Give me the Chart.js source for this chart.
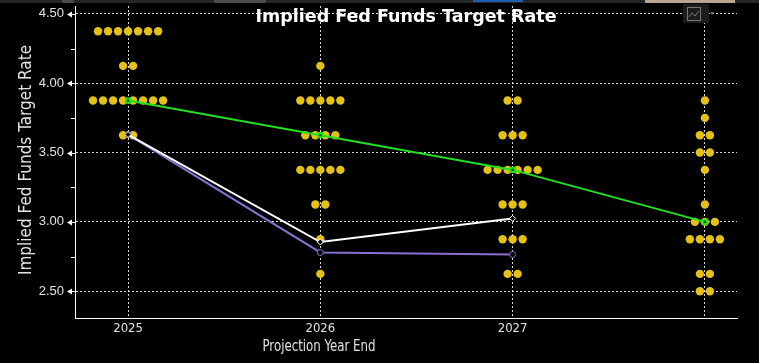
<!DOCTYPE html>
<html>
<head>
<meta charset="utf-8">
<script src="https://cdn.jsdelivr.net/npm/chart.js@4"></script>
<style>
  html, body { margin: 0; padding: 0; background: #000; }
  #wrap { width: 759px; height: 363px; }
</style>
</head>
<body>
<div id="wrap"><canvas id="fed-dots" width="759" height="363"></canvas></div>
<script>
// categories on the x axis (last one is the longer run, unlabeled in the picture)
const years = ['2025', '2026', '2027', 'Longer Run'];
const xTickLabels = ['2025', '2026', '2027', ''];
const yTicks = [2.5, 2.75, 3.0, 3.25, 3.5, 3.75, 4.0, 4.25, 4.5];

// FOMC dot plot: rate levels and how many dots sit on each
const dotRates = [
    [4.375, 4.125, 3.875, 3.625],
    [4.125, 3.875, 3.625, 3.375, 3.125, 2.875, 2.625],
    [3.875, 3.625, 3.375, 3.125, 2.875, 2.625],
    [3.875, 3.75, 3.625, 3.5, 3.375, 3.125, 3.0, 2.875, 2.625, 2.5]
];
const dotCounts = [
    [7, 2, 8, 2],
    [1, 5, 4, 5, 2, 1, 1],
    [2, 3, 6, 3, 3, 2],
    [1, 1, 2, 2, 1, 1, 3, 4, 2, 2]
];

// lines
const medianDots = [3.875, 3.625, 3.375, 3.0];
const impliedWhite = [3.63, 2.855, 3.025];
const impliedPurple = [3.63, 2.78, 2.765];

const dotStep = 10 / 192; // horizontal gap between dots, in category units

const dotPoints = [];
dotRates.forEach((rates, i) => {
    rates.forEach((r, j) => {
        const n = dotCounts[i][j];
        for (let k = 0; k < n; k++) {
            dotPoints.push({ x: i + (k - (n - 1) / 2) * dotStep, y: r });
        }
    });
});

const toXY = arr => arr.map((v, i) => ({ x: i, y: v }));

const isMajor = v => Math.abs(v * 2 - Math.round(v * 2)) < 1e-6;

const LABEL = '#e2e2e2';

const extras = {
    id: 'extras',
    beforeDraw(chart) {
        const { ctx } = chart;
        ctx.save();
        ctx.fillStyle = '#000';
        ctx.fillRect(0, 0, chart.width, chart.height);
        // top strip
        ctx.fillStyle = '#262626';
        ctx.fillRect(0, 0, chart.width, 3);
        ctx.fillStyle = '#4a4a4a';
        ctx.fillRect(62, 0, 12, 3);
        ctx.fillRect(214, 0, 52, 3);
        ctx.fillStyle = '#1f5fb0';
        ctx.fillRect(473, 0, 50, 2);
        ctx.fillStyle = '#b8a890';
        ctx.fillRect(645, 0, 90, 3);
        ctx.restore();
    },
    afterDraw(chart) {
        const { ctx, chartArea: { left, right, top, bottom } } = chart;
        const yS = chart.scales.y;
        ctx.save();
        // tick marks on the y axis: arrows at major, short dashes at minor
        ctx.fillStyle = '#ffffff';
        ctx.strokeStyle = '#ffffff';
        ctx.lineWidth = 1;
        yTicks.forEach(v => {
            const py = Math.round(yS.getPixelForValue(v)) + 0.5;
            if (isMajor(v)) {
                ctx.beginPath();
                ctx.moveTo(left - 8, py);
                ctx.lineTo(left - 3, py - 3);
                ctx.lineTo(left - 3, py + 3);
                ctx.closePath();
                ctx.fill();
                ctx.beginPath();
                ctx.moveTo(left - 3, py);
                ctx.lineTo(left, py);
                ctx.stroke();
            } else {
                ctx.beginPath();
                ctx.moveTo(left - 4, py);
                ctx.lineTo(left, py);
                ctx.stroke();
            }
        });

        // chart title, sits inside the plot area
        ctx.fillStyle = '#ffffff';
        ctx.font = 'bold 17.5px "DejaVu Sans"';
        ctx.textAlign = 'center';
        ctx.textBaseline = 'middle';
        ctx.fillText('Implied Fed Funds Target Rate', 406, 17);

        // axis titles (the x title is narrow in the original)
        ctx.fillStyle = LABEL;
        ctx.font = '16px "DejaVu Sans Condensed"';
        ctx.translate(319, 347);
        ctx.scale(0.82, 1);
        ctx.fillText('Projection Year End', 0, 0);
        ctx.setTransform(1, 0, 0, 1, 0, 0);
        ctx.font = '17px "DejaVu Sans Condensed"';
        ctx.translate(27, 160);
        ctx.rotate(-Math.PI / 2);
        ctx.fillText('Implied Fed Funds Target Rate', 0, 0);
        ctx.setTransform(1, 0, 0, 1, 0, 0);

        // small chart-type button, top right
        ctx.fillStyle = '#1c1c1c';
        ctx.fillRect(683, 4, 26, 19);
        ctx.strokeStyle = '#777';
        ctx.strokeRect(687.5, 7.5, 13, 13);
        ctx.beginPath();
        ctx.moveTo(689, 17);
        ctx.lineTo(692, 13);
        ctx.lineTo(695, 16);
        ctx.lineTo(699, 11);
        ctx.stroke();
        ctx.fillStyle = '#666';
        ctx.beginPath();
        ctx.moveTo(710, 12);
        ctx.lineTo(714, 12);
        ctx.lineTo(712, 15);
        ctx.closePath();
        ctx.fill();
        ctx.restore();
    }
};

Chart.defaults.font.family = '"Liberation Sans", sans-serif';
Chart.defaults.color = LABEL;

new Chart(document.getElementById('fed-dots'), {
    type: 'scatter',
    data: {
        datasets: [
            {
                label: 'Median',
                data: toXY(medianDots),
                showLine: true,
                borderColor: '#20e020',
                backgroundColor: '#20e020',
                borderWidth: 2,
                pointStyle: 'rect',
                pointRadius: 3,
                pointBorderColor: '#20e020',
                pointBackgroundColor: '#0a5a0a',
                order: 1
            },
            {
                label: 'Implied (white)',
                data: toXY(impliedWhite),
                showLine: true,
                borderColor: '#ffffff',
                borderWidth: 2,
                pointStyle: 'rectRot',
                pointRadius: 3,
                pointBorderColor: '#ffffff',
                pointBackgroundColor: '#000000',
                pointBorderWidth: 1,
                order: 2
            },
            {
                label: 'Implied (purple)',
                data: toXY(impliedPurple),
                showLine: true,
                borderColor: '#8a6fd3',
                borderWidth: 2,
                pointStyle: 'circle',
                pointRadius: 3,
                pointBorderColor: '#8a6fd3',
                pointBackgroundColor: '#000000',
                pointBorderWidth: 1,
                order: 3
            },
            {
                label: 'Dots',
                data: dotPoints,
                showLine: false,
                pointRadius: 4.2,
                pointBorderWidth: 0,
                pointBackgroundColor: '#e4c117',
                pointBorderColor: '#e4c117',
                order: 4
            }
        ]
    },
    options: {
        responsive: false,
        animation: false,
        layout: { padding: { top: 4, right: 22, left: 0, bottom: 0 } },
        plugins: {
            legend: { display: false },
            tooltip: { enabled: false }
        },
        scales: {
            x: {
                type: 'linear',
                min: -0.276,
                max: 3.167,
                afterBuildTicks: s => { s.ticks = years.map((_, i) => ({ value: i })); },
                afterFit: s => { s.height = 45; s.paddingLeft = 0; s.paddingRight = 0; },
                ticks: {
                    padding: 3,
                    color: LABEL,
                    font: { size: 13, family: '"Liberation Sans Narrow", "DejaVu Sans Condensed", sans-serif' },
                    callback: (v) => xTickLabels[Math.round(v)] ?? ''
                },
                grid: {
                    color: 'rgba(255,255,255,0.85)',
                    lineWidth: 1,
                    drawTicks: false
                },
                border: { display: true, color: '#ffffff', width: 1, dash: [2, 2] }
            },
            y: {
                min: 2.307,
                max: 4.557,
                afterBuildTicks: s => { s.ticks = yTicks.map(v => ({ value: v })); },
                afterFit: s => { s.width = 75; s.paddingTop = 0; s.paddingBottom = 0; },
                ticks: {
                    padding: 11,
                    color: LABEL,
                    font: { size: 13 },
                    callback: v => isMajor(v) ? v.toFixed(2) : ''
                },
                grid: {
                    color: c => (c.tick && isMajor(c.tick.value)) ? 'rgba(255,255,255,0.85)' : 'rgba(0,0,0,0)',
                    lineWidth: 1,
                    drawTicks: false
                },
                border: { display: true, color: '#ffffff', width: 1, dash: [2, 2] }
            }
        }
    },
    plugins: [extras]
});
</script>
</body>
</html>
